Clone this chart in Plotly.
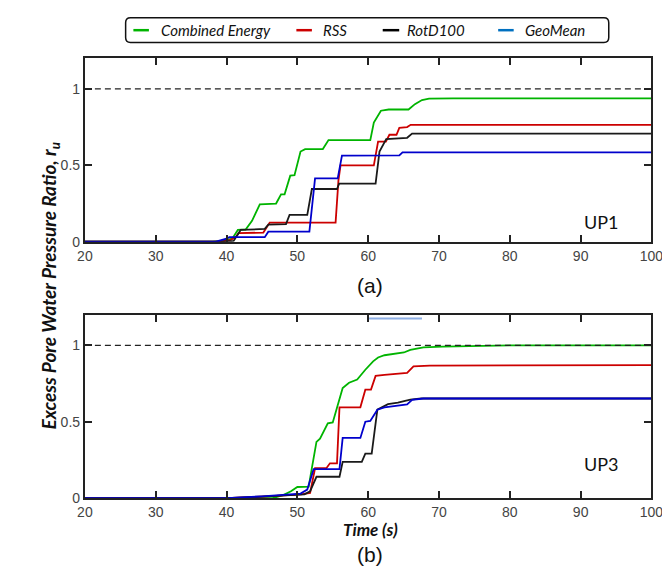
import plotly.graph_objects as go

# ---------------- data ----------------
series_names = ["Combined Energy", "RSS", "RotD100", "GeoMean"]
line_colors = ["#00b400", "#cc0000", "#1a1a1a", "#0000cc"]
legend_colors = ["#00b400", "#cc0000", "#000000", "#0070c0"]

# UP1 (panel a)
up1_ce_t = [20, 38, 39.5, 40.8, 41.6, 42.7, 43.6, 44.7, 47.0, 47.7, 48.2, 49.0, 49.6, 50.45, 51.1, 53.6, 54.4, 60.3, 60.8, 61.8, 62.9, 65.7, 66.6, 67.6, 68.6, 72, 100]
up1_ce_v = [0, 0, 0.005, 0.02, 0.077, 0.08, 0.137, 0.245, 0.25, 0.31, 0.31, 0.432, 0.435, 0.59, 0.606, 0.606, 0.665, 0.665, 0.78, 0.857, 0.865, 0.865, 0.9, 0.927, 0.936, 0.938, 0.938]
up1_rss_t = [20, 39, 40.5, 41.3, 41.7, 45.2, 46.1, 55.4, 55.8, 56.1, 60.8, 61.4, 62.5, 63.0, 64.0, 64.4, 65.5, 66.0, 100]
up1_rss_v = [0, 0, 0.01, 0.03, 0.056, 0.06, 0.125, 0.125, 0.4, 0.5, 0.5, 0.655, 0.655, 0.70, 0.70, 0.745, 0.75, 0.765, 0.765]
up1_rot_t = [20, 39, 41.0, 41.5, 42.0, 45.4, 45.9, 48.4, 48.9, 51.4, 52.05, 55.6, 55.9, 61.05, 61.6, 62.55, 65.5, 66.2, 100]
up1_rot_v = [0, 0, 0.005, 0.04, 0.077, 0.084, 0.112, 0.115, 0.176, 0.176, 0.345, 0.345, 0.38, 0.38, 0.59, 0.671, 0.68, 0.707, 0.707]
up1_geo_t = [20, 38.5, 40.0, 40.4, 45.4, 45.9, 51.7, 52.5, 55.7, 56.3, 64.4, 64.85, 100]
up1_geo_v = [0, 0, 0.02, 0.03, 0.03, 0.066, 0.066, 0.415, 0.415, 0.563, 0.565, 0.585, 0.585]

# UP3 (panel b)
up3_ce_t = [20, 46.5, 48.0, 49.1, 50.0, 51.6, 52.05, 52.7, 53.2, 54.3, 55.0, 56.4, 57.3, 58.45, 59.6, 60.7, 61.4, 62.3, 65.05, 65.95, 67.8, 70.5, 80, 100]
up3_ce_v = [0, 0, 0.02, 0.045, 0.073, 0.075, 0.196, 0.368, 0.389, 0.49, 0.495, 0.72, 0.755, 0.776, 0.84, 0.895, 0.92, 0.935, 0.953, 0.97, 0.987, 0.992, 1.0, 1.0]
up3_rss_t = [20, 40, 45, 49, 50.5, 51.8, 52.5, 54.1, 54.6, 55.6, 55.95, 58.9, 59.6, 60.4, 61.05, 62.3, 64.2, 65.5, 66.4, 68.7, 100]
up3_rss_v = [0, 0, 0.01, 0.02, 0.025, 0.034, 0.196, 0.196, 0.228, 0.228, 0.594, 0.594, 0.71, 0.71, 0.80, 0.806, 0.814, 0.82, 0.862, 0.867, 0.87]
up3_rot_t = [20, 40, 45, 49, 51.0, 51.8, 52.7, 55.95, 56.4, 59.1, 59.6, 60.5, 61.3, 62.8, 64.2, 65.95, 67.5, 100]
up3_rot_v = [0, 0, 0.01, 0.02, 0.025, 0.045, 0.14, 0.14, 0.238, 0.238, 0.292, 0.292, 0.579, 0.615, 0.625, 0.645, 0.652, 0.652]
up3_geo_t = [20, 40, 45, 48, 50.45, 51.4, 52.3, 55.95, 56.4, 58.9, 59.6, 60.3, 61.3, 62.3, 64.2, 65.5, 66.2, 67.8, 100]
up3_geo_v = [0, 0, 0.012, 0.02, 0.03, 0.056, 0.19, 0.19, 0.394, 0.394, 0.50, 0.505, 0.579, 0.594, 0.604, 0.614, 0.643, 0.652, 0.652]

# stray light-blue segment in panel b
stray_t = [60, 67.6]
stray_v = [1.176, 1.176]

ref_t = [20, 100]
ref_v = [1, 1]

x_ticks = [20, 30, 40, 50, 60, 70, 80, 90, 100]
y_ticks = [0, 0.5, 1]
y_ticklabels = ["0", "0.5", "1"]

# ---------------- figure ----------------
W, H = 670, 582
fig = go.Figure()

panels = [
    ("x", "y", [(up1_ce_t, up1_ce_v), (up1_rss_t, up1_rss_v), (up1_rot_t, up1_rot_v), (up1_geo_t, up1_geo_v)]),
    ("x2", "y2", [(up3_ce_t, up3_ce_v), (up3_rss_t, up3_rss_v), (up3_rot_t, up3_rot_v), (up3_geo_t, up3_geo_v)]),
]
for xa, ya, sers in panels:
    for (t, v), name, col in zip(sers, series_names, line_colors):
        fig.add_trace(go.Scatter(x=t, y=v, mode="lines", name=name, xaxis=xa, yaxis=ya,
                                 line=dict(color=col, width=1.8), showlegend=False))
    fig.add_trace(go.Scatter(x=ref_t, y=ref_v, mode="lines", xaxis=xa, yaxis=ya,
                             line=dict(color="#222222", width=1.2, dash="6px,4px"), showlegend=False,
                             hoverinfo="skip"))

fig.add_trace(go.Scatter(x=stray_t, y=stray_v, mode="lines", xaxis="x2", yaxis="y2",
                         line=dict(color="#8fb0e6", width=2), showlegend=False, hoverinfo="skip"))


def py(p):  # pixel from top -> paper
    return 1 - p / H


def px(p):
    return p / W


axis_common = dict(showline=True, linecolor="#222222", linewidth=2, mirror="ticks",
                   ticks="inside", ticklen=7, tickwidth=1.5, tickcolor="#222222",
                   showgrid=False, zeroline=False,
                   tickfont=dict(family="Liberation Sans, Arial", size=14, color="#444444"))

fig.update_layout(
    width=W, height=H,
    margin=dict(l=0, r=0, t=0, b=0),
    paper_bgcolor="white", plot_bgcolor="white",
    showlegend=False,
    xaxis=dict(domain=[px(71), px(655)], range=[20, 100], tickvals=x_ticks, anchor="y", **axis_common),
    yaxis=dict(domain=[py(237), py(51)], range=[0, 1.2], tickvals=y_ticks, ticktext=y_ticklabels, anchor="x", **axis_common),
    xaxis2=dict(domain=[px(71), px(655)], range=[20, 100], tickvals=x_ticks, anchor="y2", **axis_common),
    yaxis2=dict(domain=[py(497), py(311)], range=[0, 1.2], tickvals=y_ticks, ticktext=y_ticklabels, anchor="x2", **axis_common),
)

annotations = []
shapes = []

# legend box (rounded corners), given in pixels then converted to paper coords
x0, x1, y0, y1, r = 113, 611, 10, 35, 5
corner_pts = [
    ("M", [(x0 + r, y0)]), ("L", [(x1 - r, y0)]), ("Q", [(x1, y0), (x1, y0 + r)]),
    ("L", [(x1, y1 - r)]), ("Q", [(x1, y1), (x1 - r, y1)]), ("L", [(x0 + r, y1)]),
    ("Q", [(x0, y1), (x0, y1 - r)]), ("L", [(x0, y0 + r)]), ("Q", [(x0, y0), (x0 + r, y0)]),
]
path = " ".join(cmd + " " + " ".join(f"{px(a):.5f},{py(b):.5f}" for a, b in pts) for cmd, pts in corner_pts) + " Z"
shapes.append(dict(type="path", xref="paper", yref="paper", path=path,
                   line=dict(color="#111111", width=1.5)))

leg_line_x = [(121, 137), (289, 305), (378, 395), (497, 513)]
leg_text_x = [147, 314, 401, 523]
for (la, lb), tx, name, col in zip(leg_line_x, leg_text_x, series_names, legend_colors):
    shapes.append(dict(type="line", xref="paper", yref="paper", x0=px(la), x1=px(lb),
                       y0=py(22.5), y1=py(22.5), line=dict(color=col, width=2.5)))
    annotations.append(dict(x=px(tx), y=py(22.5), xref="paper", yref="paper", text=f"<i>{name}</i>",
                            showarrow=False, xanchor="left", yanchor="middle",
                            font=dict(family="Lato, sans-serif", size=15, color="#111111")))

# panel labels
for txt, yy in [("UP1", 217), ("UP3", 476)]:
    annotations.append(dict(x=px(624), y=py(yy), xref="paper", yref="paper", text=txt, showarrow=False,
                            font=dict(family="Lato, sans-serif", size=18, color="#111111")))
for txt, yy in [("(a)", 281), ("(b)", 568)]:
    annotations.append(dict(x=px(365), y=py(yy), xref="paper", yref="paper", text=txt, showarrow=False,
                            font=dict(family="Liberation Sans, Arial", size=21, color="#111111")))

annotations.append(dict(x=px(365), y=py(541), xref="paper", yref="paper", text="<b><i>Time (s)</i></b>",
                        showarrow=False, font=dict(family="Lato, sans-serif", size=17, color="#111111")))
annotations.append(dict(x=px(20), y=py(282), xref="paper", yref="paper", textangle=-90,
                        text="<b><i>Excess Pore Water Pressure Ratio, r<sub>u</sub></i></b>",
                        showarrow=False, font=dict(family="Lato, sans-serif", size=19, color="#111111")))

fig.update_layout(annotations=annotations, shapes=shapes)
fig.write_html("out.html")
